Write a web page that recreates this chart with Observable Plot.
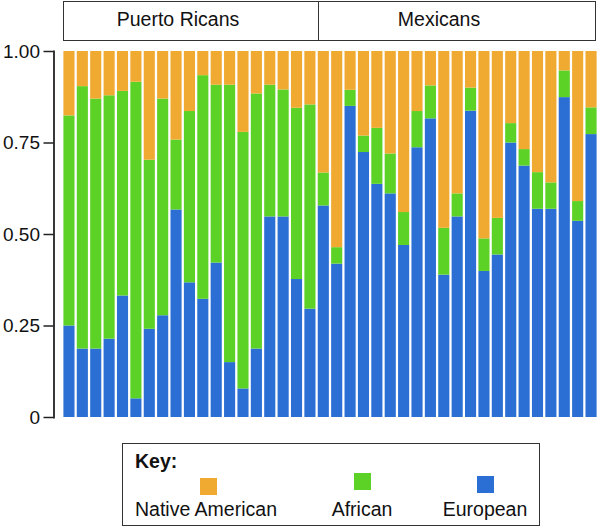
<!DOCTYPE html>
<html>
<head>
<meta charset="utf-8">
<script src="https://cdn.jsdelivr.net/npm/d3@7"></script>
<script src="https://cdn.jsdelivr.net/npm/@observablehq/plot@0.6"></script>
<style>
  html, body { margin: 0; padding: 0; background: #fff; }
  #root { position: relative; width: 600px; height: 527px; font-family: "Liberation Sans", Arial, Helvetica, sans-serif; color: #111; overflow: hidden; }
  .hdr { position: absolute; top: 1px; height: 38px; border: 1.5px solid #333; box-sizing: content-box; }
  .hdrtxt { position: absolute; top: 8px; font-size: 19.5px; white-space: nowrap; transform: translateX(-50%); }
  #chart { position: absolute; left: 0; top: 44px; }
  #legend { position: absolute; left: 122px; top: 443px; width: 416px; height: 81px; border: 1.5px solid #333; }
  .lg { position: absolute; font-size: 19.5px; white-space: nowrap; }
  .sw { position: absolute; width: 17px; height: 17px; }
</style>
</head>
<body>
<div id="root">
  <div id="header"></div>
  <div id="chart"></div>
  <div id="legend"></div>
</div>
<script>
// ---- data ----
const populations = ["Puerto Ricans", "Mexicans"];
const populationSizes = [19, 21];
const components = ["Native American", "African", "European"];
const componentColors = ["#F0AA32", "#5DD226", "#2B6FD4"];
const european = [0.250, 0.187, 0.187, 0.214, 0.332, 0.051, 0.241, 0.278, 0.567, 0.368,
                  0.323, 0.422, 0.150, 0.078, 0.187, 0.548, 0.548, 0.377, 0.296,
                  0.578, 0.419, 0.850, 0.724, 0.637, 0.611, 0.470, 0.737, 0.816, 0.389,
                  0.548, 0.837, 0.399, 0.444, 0.750, 0.687, 0.569, 0.569, 0.874, 0.536, 0.773];
const african = [0.574, 0.717, 0.683, 0.665, 0.559, 0.865, 0.462, 0.592, 0.191, 0.468,
                 0.611, 0.486, 0.758, 0.701, 0.697, 0.360, 0.347, 0.468, 0.558,
                 0.090, 0.045, 0.044, 0.045, 0.153, 0.109, 0.090, 0.099, 0.090, 0.128,
                 0.063, 0.063, 0.089, 0.100, 0.053, 0.045, 0.100, 0.072, 0.073, 0.054, 0.073];
const nativeAmerican = [0.176, 0.096, 0.130, 0.121, 0.109, 0.084, 0.297, 0.130, 0.242, 0.164,
                        0.066, 0.092, 0.092, 0.221, 0.116, 0.092, 0.105, 0.155, 0.146,
                        0.332, 0.536, 0.106, 0.231, 0.210, 0.280, 0.440, 0.164, 0.094, 0.483,
                        0.389, 0.100, 0.512, 0.456, 0.197, 0.268, 0.331, 0.359, 0.053, 0.410, 0.154];
const yTicks = [0, 0.25, 0.5, 0.75, 1];
const yTickLabels = ["0", "0.25", "0.50", "0.75", "1.00"];

// ---- build long table: European bottom, African middle, Native American top ----
const ids = european.map((_, i) => String(i + 1));
const rows = [];
ids.forEach((id, i) => {
  rows.push({id, component: "European", value: european[i]});
  rows.push({id, component: "African", value: african[i]});
  rows.push({id, component: "Native American", value: nativeAmerican[i]});
});

const plot = Plot.plot({
  width: 600,
  height: 390,
  marginTop: 7,
  marginBottom: 17,
  marginLeft: 63,
  marginRight: 3,
  style: {fontFamily: '"Liberation Sans", Arial, sans-serif', fontSize: "19px", color: "#111", overflow: "visible"},
  x: {domain: ids, axis: null, paddingInner: 0.17, paddingOuter: 0.03, round: false},
  y: {domain: [0, 1]},
  color: {domain: components, range: componentColors},
  marks: [
    Plot.barY(rows, {x: "id", y: "value", fill: "component", order: null}),
    Plot.axisY({ticks: yTicks, tickFormat: d => yTickLabels[yTicks.indexOf(d)], tickSize: 10, tickPadding: 4,
                dx: -9.5, stroke: "#222", strokeWidth: 1.5, label: null, fill: "#111"}),
    Plot.frame({anchor: "left", dx: -9.5, stroke: "#222", strokeWidth: 1.8})
  ]
});
document.getElementById("chart").appendChild(plot);

// ---- header boxes, positioned with the chart's x scale ----
const xs = plot.scale("x");
const header = document.getElementById("header");
const left = 62.5, right = 597;
const divider = (xs.apply(ids[populationSizes[0] - 1]) + xs.bandwidth + xs.apply(ids[populationSizes[0]])) / 2;
const cells = [[left, divider], [divider, right]];
const textCenters = [178, 439];
cells.forEach(([a, b], k) => {
  const d = document.createElement("div");
  d.className = "hdr";
  d.style.left = a + "px";
  d.style.width = (b - a - (k === 0 ? 0 : 1.5)) + "px";
  if (k === 1) d.style.borderLeft = "none";
  header.appendChild(d);
  const t = document.createElement("div");
  t.className = "hdrtxt";
  t.textContent = populations[k];
  t.style.left = textCenters[k] + "px";
  header.appendChild(t);
});

// ---- legend ----
const legend = document.getElementById("legend");
const key = document.createElement("div");
key.className = "lg";
key.style.left = "12px"; key.style.top = "6px"; key.style.fontWeight = "bold";
key.textContent = "Key:";
legend.appendChild(key);
const swatchCenters = [85, 239, 362];
const swatchTops = [34, 29, 32];
const labelCenters = [85, 239, 362];
components.forEach((c, i) => {
  const s = document.createElement("div");
  s.className = "sw";
  s.style.background = componentColors[i];
  s.style.left = (swatchCenters[i] - 8.5) + "px";
  s.style.top = swatchTops[i] + "px";
  legend.appendChild(s);
  const l = document.createElement("div");
  l.className = "lg";
  l.textContent = c;
  l.style.top = "54px";
  if (i === 0) { l.style.left = "12px"; }
  else { l.style.left = labelCenters[i] + "px"; l.style.transform = "translateX(-50%)"; }
  legend.appendChild(l);
});
</script>
</body>
</html>
